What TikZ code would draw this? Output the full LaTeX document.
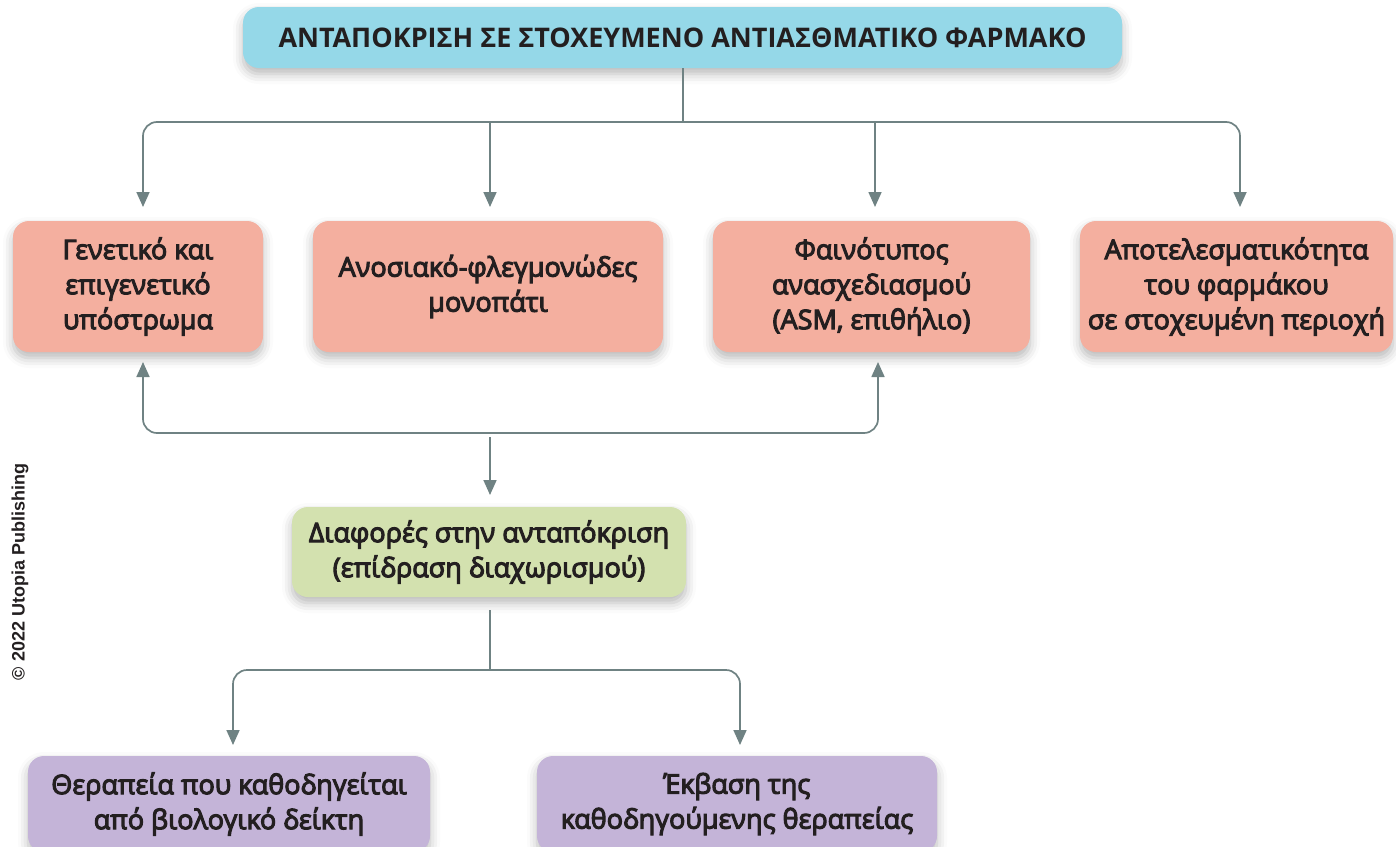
\documentclass[tikz,border=0pt]{standalone}
\usepackage{fontspec}
\setmainfont{Open Sans}
\newfontfamily\boxfont{Open Sans}[FakeBold=4]
\newfontfamily\cpfont{Liberation Sans}
\usetikzlibrary{shadows.blur,arrows.meta}
\definecolor{cyanbox}{HTML}{95D8E8}
\definecolor{pinkbox}{HTML}{F4AF9F}
\definecolor{greenbox}{HTML}{D3E1AF}
\definecolor{purplebox}{HTML}{C4B4D8}
\definecolor{arrowc}{HTML}{6F8283}
\definecolor{txt}{HTML}{231F20}
\begin{document}
\begin{tikzpicture}[x=1pt,y=-1pt,
  box/.style={rounded corners=16pt, text=txt, align=center, inner sep=0pt,
    font=\boxfont\fontsize{27}{35}\selectfont,
    blur shadow={shadow xshift=0pt, shadow yshift=-6pt, shadow blur radius=10pt, shadow opacity=28}},
  conn/.style={draw=arrowc, line width=1.7pt, rounded corners=14pt},
  arr/.style={conn, -{Triangle[length=15pt,width=13pt]}},
]
\useasboundingbox (0,0) rectangle (1396,846);

\node[box, fill=cyanbox, minimum width=879pt, minimum height=61pt,
  font=\bfseries\fontsize{27}{32}\selectfont] (top) at (682.5,37.5)
  {ΑΝΤΑΠΟΚΡΙΣΗ ΣΕ ΣΤΟΧΕΥΜΕΝΟ ΑΝΤΙΑΣΘΜΑΤΙΚΟ ΦΑΡΜΑΚΟ};

\node[box, fill=pinkbox, minimum width=250pt, minimum height=131pt] (g1) at (138,286.5)
  {Γενετικό και\\επιγενετικό\\υπόστρωμα};
\node[box, fill=pinkbox, minimum width=350pt, minimum height=131pt] (g2) at (488,286.5)
  {Ανοσιακό-φλεγμονώδες\\μονοπάτι};
\node[box, fill=pinkbox, minimum width=317pt, minimum height=131pt] (g3) at (871.5,286.5)
  {Φαινότυπος\\ανασχεδιασμού\\(ASM, επιθήλιο)};
\node[box, fill=pinkbox, minimum width=313pt, minimum height=131pt] (g4) at (1236.5,286.5)
  {Αποτελεσματικότητα\\του φαρμάκου\\σε στοχευμένη περιοχή};

\node[box, fill=greenbox, minimum width=394pt, minimum height=90pt] (d) at (489,552)
  {Διαφορές στην ανταπόκριση\\(επίδραση διαχωρισμού)};

\node[box, fill=purplebox, minimum width=402pt, minimum height=96pt] (p1) at (229,804)
  {Θεραπεία που καθοδηγείται\\από βιολογικό δείκτη};
\node[box, fill=purplebox, minimum width=400pt, minimum height=96pt] (p2) at (737,804)
  {Έκβαση της\\καθοδηγούμενης θεραπείας};

\node[rotate=90, text=txt, font=\cpfont\bfseries\fontsize{18}{20}\selectfont] (cp) at (20,572)
  {© 2022 Utopia Publishing};

% top bus
\coordinate (bus) at (683,122);
\coordinate (a1) at (143,207);
\coordinate (a2) at (490,207);
\coordinate (a3) at (875,207);
\coordinate (a4) at (1240,207);
\draw[conn] (top.south -| bus) -- (bus);
\draw[arr] (bus) -| (a1);
\draw[arr] (bus) -| (a4);
\draw[arr] (a2 |- bus) -- (a2);
\draw[arr] (a3 |- bus) -- (a3);

% lower bus
\coordinate (lb) at (490,433);
\coordinate (u1) at (143,362);
\coordinate (u3) at (878,362);
\coordinate (dn) at (490,495);
\draw[arr] (lb) -| (u1);
\draw[arr] (lb) -| (u3);
\draw[arr] (lb) ++(0,4) -- (dn);

% bottom bus
\coordinate (bb) at (490,670);
\coordinate (q1) at (233,745);
\coordinate (q2) at (740,745);
\draw[conn] (d.south -| bb) ++(0,13) -- (bb);
\draw[arr] (bb) -| (q1);
\draw[arr] (bb) -| (q2);
\end{tikzpicture}
\end{document}
